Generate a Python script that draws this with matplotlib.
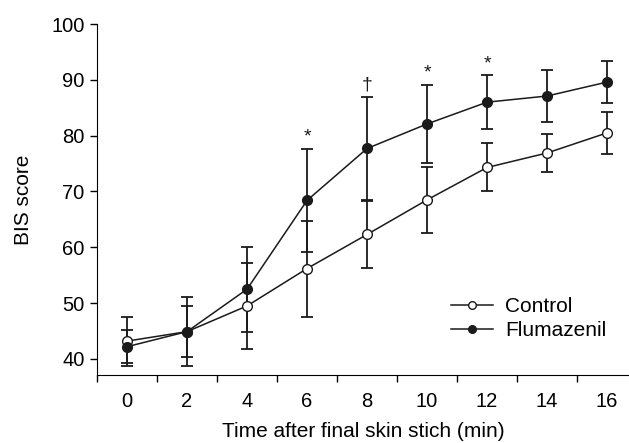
import matplotlib.pyplot as plt
from matplotlib.lines import Line2D
import numpy as np

plt.rcParams['font.family'] = ['Liberation Sans', 'DejaVu Sans']

time = [0, 2, 4, 6, 8, 10, 12, 14, 16]
control = [43.2, 44.9, 49.5, 56.2, 62.3, 68.5, 74.3, 76.9, 80.5]
control_sd = [4.4, 4.6, 7.7, 8.6, 6.0, 5.9, 4.3, 3.4, 3.7]
flumazenil = [42.2, 44.9, 52.5, 68.4, 77.7, 82.1, 86.0, 87.1, 89.6]
flumazenil_sd = [3.0, 6.2, 7.6, 9.2, 9.3, 7.0, 4.8, 4.7, 3.7]
marks = {6: '*', 8: '\u2020', 10: '*', 12: '*'}

ink = '#1a1a1a'
fig = plt.figure(figsize=(6.29, 4.43), dpi=100)
ax = fig.add_axes([97/629, 1-375/443, 1-97/629, (375-24)/443])

style = dict(fmt='-o', color=ink, mec=ink, ms=7, lw=1.1, elinewidth=1.3,
             capsize=4.5, capthick=1.3)
ax.errorbar(time, control, yerr=control_sd, mfc='white', **style)
ax.errorbar(time, flumazenil, yerr=flumazenil_sd, mfc=ink, **style)

for t, s in marks.items():
    i = time.index(t)
    top = flumazenil[i] + flumazenil_sd[i]
    ax.text(t, top + 0.6, s, ha='center', va='bottom', fontsize=14, color=ink)

ax.set_xlim(-1, 16.73)
ax.set_ylim(37.13, 100)
ax.spines['top'].set_visible(False)
ax.spines['right'].set_visible(False)
ax.spines['left'].set_bounds(37.13, 100)

ax.set_xticks(np.arange(-1, 17, 2))
ax.set_xticklabels([])
ax.set_xticks(time, minor=True)
ax.set_xticklabels([str(t) for t in time], minor=True)
ax.tick_params(axis='x', which='major', length=5, width=1, direction='out')
ax.tick_params(axis='x', which='minor', length=0, pad=12, labelsize=14.5)
ax.set_yticks(np.arange(40, 101, 10))
ax.tick_params(axis='y', length=5, width=1, pad=4, labelsize=14.5)

ax.set_xlabel('Time after final skin stich (min)', fontsize=15, labelpad=8)
ax.set_ylabel('BIS score', fontsize=15, labelpad=13)

handles = [Line2D([], [], color=ink, lw=1.1, marker='o', ms=5.5, mec=ink, mfc='white'),
           Line2D([], [], color=ink, lw=1.1, marker='o', ms=5.5, mec=ink, mfc=ink)]
ax.legend(handles, ['Control', 'Flumazenil'], loc='upper left',
          bbox_to_anchor=(451/629, 1-297/443), bbox_transform=fig.transFigure,
          frameon=False, fontsize=15, handlelength=2.0, handletextpad=0.6,
          borderpad=0, borderaxespad=0, labelspacing=0.25)

fig.savefig('out.png', dpi=100)
